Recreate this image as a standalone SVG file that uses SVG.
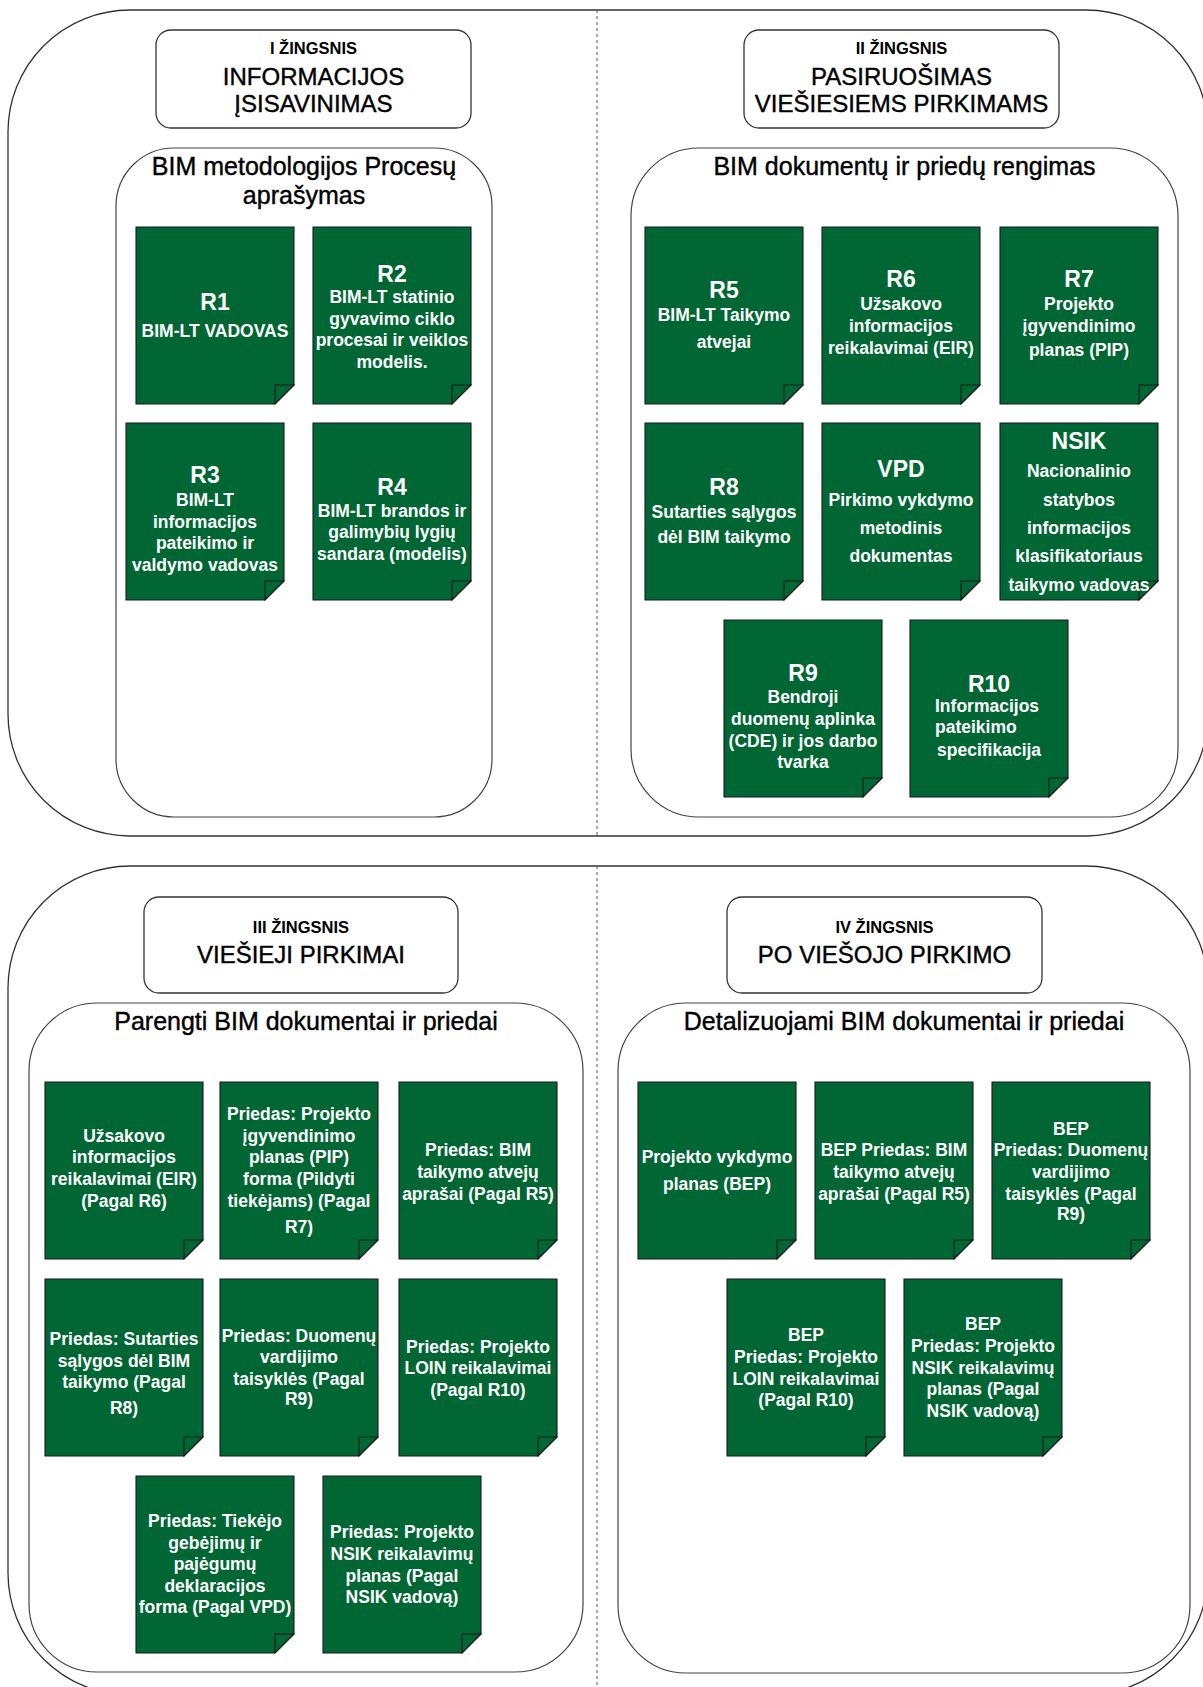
<svg xmlns="http://www.w3.org/2000/svg" xmlns:xlink="http://www.w3.org/1999/xlink" width="1203" height="1687" viewBox="0 0 1203 1687">
<style>
.panel{fill:#fff;stroke:#333;stroke-width:1.3}
.cont{fill:#fff;stroke:#444;stroke-width:1.2}
.hdr{fill:#fff;stroke:#333;stroke-width:1.3}
.div{stroke:#555;stroke-width:1;stroke-dasharray:3 3;fill:none}
.doc{fill:#006633;stroke:#1a1a1a;stroke-width:1.1}
.fold{fill:#006633;stroke:#1a1a1a;stroke-width:1.1}
text{font-family:"Liberation Sans",Arial,sans-serif}
.step{font-size:16.5px;font-weight:bold;fill:#000;text-anchor:middle}
.big{font-size:24px;fill:#000;stroke:#000;stroke-width:0.4;text-anchor:middle}
.ttl{font-size:25px;fill:#000;stroke:#000;stroke-width:0.4;text-anchor:middle}
.h{font-size:23px;font-weight:bold;fill:#fff;text-anchor:middle}
.b{font-size:17.5px;font-weight:bold;fill:#fff;text-anchor:middle}
.bl{font-size:17.5px;font-weight:bold;fill:#fff;text-anchor:start}
</style>
<defs>
<path id="doc" d="M0,0 H158 V158 L139,177 H0 Z"/>
<path id="fold" d="M139,177 V158 H158 Z"/>
</defs>

<g id="panels">
<rect class="panel" x="8" y="10" width="1200" height="826" rx="122" ry="122"/>
<rect class="panel" x="8" y="866" width="1200" height="829" rx="122" ry="122"/>
</g>
<g id="connectors">
<line class="div" x1="597" y1="10" x2="597" y2="836"/>
<line class="div" x1="597" y1="866" x2="597" y2="1687"/>
</g>

<!-- Step I -->
<g id="step1">
<rect class="hdr" x="156" y="30" width="315" height="98" rx="15" ry="15"/>
<text class="step" x="313.5" y="53.5">I ŽINGSNIS</text>
<text class="big" x="313.5" y="85">INFORMACIJOS</text>
<text class="big" x="313.5" y="112">ĮSISAVINIMAS</text>
</g>
<g id="c1">
<rect class="cont" x="116" y="148" width="376" height="669" rx="58" ry="58"/>
<text class="ttl" x="304" y="175">BIM metodologijos Procesų</text>
<text class="ttl" x="304" y="204">aprašymas</text>
</g>
<g id="r1">
<use xlink:href="#doc" class="doc" x="136" y="227"/><use xlink:href="#fold" class="fold" x="136" y="227"/>
<text class="h" x="215" y="310">R1</text>
<text class="b" x="215" y="337">BIM-LT VADOVAS</text>
</g>
<g id="r2">
<use xlink:href="#doc" class="doc" x="313" y="227"/><use xlink:href="#fold" class="fold" x="313" y="227"/>
<text class="h" x="392" y="282">R2</text>
<text class="b" x="392" y="303">BIM-LT statinio</text>
<text class="b" x="392" y="324.5">gyvavimo ciklo</text>
<text class="b" x="392" y="346">procesai ir veiklos</text>
<text class="b" x="392" y="367.5">modelis.</text>
</g>
<g id="r3">
<use xlink:href="#doc" class="doc" x="126" y="423"/><use xlink:href="#fold" class="fold" x="126" y="423"/>
<text class="h" x="205" y="483">R3</text>
<text class="b" x="205" y="506">BIM-LT</text>
<text class="b" x="205" y="528">informacijos</text>
<text class="b" x="205" y="549">pateikimo ir</text>
<text class="b" x="205" y="571">valdymo vadovas</text>
</g>
<g id="r4">
<use xlink:href="#doc" class="doc" x="313" y="423"/><use xlink:href="#fold" class="fold" x="313" y="423"/>
<text class="h" x="392" y="495">R4</text>
<text class="b" x="392" y="517">BIM-LT brandos ir</text>
<text class="b" x="392" y="538">galimybių lygių</text>
<text class="b" x="392" y="560">sandara (modelis)</text>
</g>

<!-- Step II -->
<g id="step2">
<rect class="hdr" x="744" y="30" width="315" height="98" rx="15" ry="15"/>
<text class="step" x="901.5" y="53.5">II ŽINGSNIS</text>
<text class="big" x="901.5" y="85">PASIRUOŠIMAS</text>
<text class="big" x="901.5" y="112">VIEŠIESIEMS PIRKIMAMS</text>
</g>
<g id="c2">
<rect class="cont" x="631" y="148" width="547" height="669" rx="68" ry="68"/>
<text class="ttl" x="904.5" y="175">BIM dokumentų ir priedų rengimas</text>
</g>
<g id="r5">
<use xlink:href="#doc" class="doc" x="645" y="227"/><use xlink:href="#fold" class="fold" x="645" y="227"/>
<text class="h" x="724" y="298">R5</text>
<text class="b" x="724" y="321">BIM-LT Taikymo</text>
<text class="b" x="724" y="348">atvejai</text>
</g>
<g id="r6">
<use xlink:href="#doc" class="doc" x="822" y="227"/><use xlink:href="#fold" class="fold" x="822" y="227"/>
<text class="h" x="901" y="287">R6</text>
<text class="b" x="901" y="310">Užsakovo</text>
<text class="b" x="901" y="332">informacijos</text>
<text class="b" x="901" y="354">reikalavimai (EIR)</text>
</g>
<g id="r7">
<use xlink:href="#doc" class="doc" x="1000" y="227"/><use xlink:href="#fold" class="fold" x="1000" y="227"/>
<text class="h" x="1079" y="287">R7</text>
<text class="b" x="1079" y="310">Projekto</text>
<text class="b" x="1079" y="332">įgyvendinimo</text>
<text class="b" x="1079" y="356">planas (PIP)</text>
</g>
<g id="r8">
<use xlink:href="#doc" class="doc" x="645" y="423"/><use xlink:href="#fold" class="fold" x="645" y="423"/>
<text class="h" x="724" y="495">R8</text>
<text class="b" x="724" y="518">Sutarties sąlygos</text>
<text class="b" x="724" y="543">dėl BIM taikymo</text>
</g>
<g id="vpd">
<use xlink:href="#doc" class="doc" x="822" y="423"/><use xlink:href="#fold" class="fold" x="822" y="423"/>
<text class="h" x="901" y="477">VPD</text>
<text class="b" x="901" y="506">Pirkimo vykdymo</text>
<text class="b" x="901" y="534">metodinis</text>
<text class="b" x="901" y="562">dokumentas</text>
</g>
<g id="nsik">
<use xlink:href="#doc" class="doc" x="1000" y="423"/><use xlink:href="#fold" class="fold" x="1000" y="423"/>
<text class="h" x="1079" y="449">NSIK</text>
<text class="b" x="1079" y="477">Nacionalinio</text>
<text class="b" x="1079" y="506">statybos</text>
<text class="b" x="1079" y="534">informacijos</text>
<text class="b" x="1079" y="562">klasifikatoriaus</text>
<text class="b" x="1079" y="591">taikymo vadovas</text>
</g>
<g id="r9">
<use xlink:href="#doc" class="doc" x="724" y="620"/><use xlink:href="#fold" class="fold" x="724" y="620"/>
<text class="h" x="803" y="681">R9</text>
<text class="b" x="803" y="703">Bendroji</text>
<text class="b" x="803" y="725">duomenų aplinka</text>
<text class="b" x="803" y="747">(CDE) ir jos darbo</text>
<text class="b" x="803" y="768">tvarka</text>
</g>
<g id="r10">
<use xlink:href="#doc" class="doc" x="910" y="620"/><use xlink:href="#fold" class="fold" x="910" y="620"/>
<text class="h" x="989" y="692">R10</text>
<text class="bl" x="935" y="712">Informacijos</text>
<text class="bl" x="935" y="733">pateikimo</text>
<text class="bl" x="937" y="756">specifikacija</text>
</g>

<!-- Step III -->
<g id="step3">
<rect class="hdr" x="144" y="897" width="314" height="96" rx="15" ry="15"/>
<text class="step" x="301" y="933">III ŽINGSNIS</text>
<text class="big" x="301" y="963">VIEŠIEJI PIRKIMAI</text>
</g>
<g id="c3">
<rect class="cont" x="29" y="1003" width="554" height="669" rx="68" ry="68"/>
<text class="ttl" x="306" y="1030">Parengti BIM dokumentai ir priedai</text>
</g>
<g id="p1">
<use xlink:href="#doc" class="doc" x="45" y="1082"/><use xlink:href="#fold" class="fold" x="45" y="1082"/>
<text class="b" x="124" y="1142">Užsakovo</text>
<text class="b" x="124" y="1163">informacijos</text>
<text class="b" x="124" y="1185">reikalavimai (EIR)</text>
<text class="b" x="124" y="1207">(Pagal R6)</text>
</g>
<g id="p2">
<use xlink:href="#doc" class="doc" x="220" y="1082"/><use xlink:href="#fold" class="fold" x="220" y="1082"/>
<text class="b" x="299" y="1120">Priedas: Projekto</text>
<text class="b" x="299" y="1142">įgyvendinimo</text>
<text class="b" x="299" y="1163">planas (PIP)</text>
<text class="b" x="299" y="1185">forma (Pildyti</text>
<text class="b" x="299" y="1207">tiekėjams) (Pagal</text>
<text class="b" x="299" y="1233">R7)</text>
</g>
<g id="p3">
<use xlink:href="#doc" class="doc" x="399" y="1082"/><use xlink:href="#fold" class="fold" x="399" y="1082"/>
<text class="b" x="478" y="1156">Priedas: BIM</text>
<text class="b" x="478" y="1178">taikymo atvejų</text>
<text class="b" x="478" y="1200">aprašai (Pagal R5)</text>
</g>
<g id="p4">
<use xlink:href="#doc" class="doc" x="45" y="1279"/><use xlink:href="#fold" class="fold" x="45" y="1279"/>
<text class="b" x="124" y="1345">Priedas: Sutarties</text>
<text class="b" x="124" y="1367">sąlygos dėl BIM</text>
<text class="b" x="124" y="1388">taikymo (Pagal</text>
<text class="b" x="124" y="1414">R8)</text>
</g>
<g id="p5">
<use xlink:href="#doc" class="doc" x="220" y="1279"/><use xlink:href="#fold" class="fold" x="220" y="1279"/>
<text class="b" x="299" y="1342">Priedas: Duomenų</text>
<text class="b" x="299" y="1363">vardijimo</text>
<text class="b" x="299" y="1385">taisyklės (Pagal</text>
<text class="b" x="299" y="1405">R9)</text>
</g>
<g id="p6">
<use xlink:href="#doc" class="doc" x="399" y="1279"/><use xlink:href="#fold" class="fold" x="399" y="1279"/>
<text class="b" x="478" y="1353">Priedas: Projekto</text>
<text class="b" x="478" y="1374">LOIN reikalavimai</text>
<text class="b" x="478" y="1396">(Pagal R10)</text>
</g>
<g id="p7">
<use xlink:href="#doc" class="doc" x="136" y="1476"/><use xlink:href="#fold" class="fold" x="136" y="1476"/>
<text class="b" x="215" y="1527">Priedas: Tiekėjo</text>
<text class="b" x="215" y="1549">gebėjimų ir</text>
<text class="b" x="215" y="1570">pajėgumų</text>
<text class="b" x="215" y="1592">deklaracijos</text>
<text class="b" x="215" y="1613">forma (Pagal VPD)</text>
</g>
<g id="p8">
<use xlink:href="#doc" class="doc" x="323" y="1476"/><use xlink:href="#fold" class="fold" x="323" y="1476"/>
<text class="b" x="402" y="1538">Priedas: Projekto</text>
<text class="b" x="402" y="1560">NSIK reikalavimų</text>
<text class="b" x="402" y="1582">planas (Pagal</text>
<text class="b" x="402" y="1603">NSIK vadovą)</text>
</g>

<!-- Step IV -->
<g id="step4">
<rect class="hdr" x="727" y="897" width="315" height="96" rx="15" ry="15"/>
<text class="step" x="884.5" y="933">IV ŽINGSNIS</text>
<text class="big" x="884.5" y="963">PO VIEŠOJO PIRKIMO</text>
</g>
<g id="c4">
<rect class="cont" x="618" y="1003" width="572" height="670" rx="68" ry="68"/>
<text class="ttl" x="904" y="1030">Detalizuojami BIM dokumentai ir priedai</text>
</g>
<g id="q1">
<use xlink:href="#doc" class="doc" x="638" y="1082"/><use xlink:href="#fold" class="fold" x="638" y="1082"/>
<text class="b" x="717" y="1163">Projekto vykdymo</text>
<text class="b" x="717" y="1190">planas (BEP)</text>
</g>
<g id="q2">
<use xlink:href="#doc" class="doc" x="815" y="1082"/><use xlink:href="#fold" class="fold" x="815" y="1082"/>
<text class="b" x="894" y="1156">BEP Priedas: BIM</text>
<text class="b" x="894" y="1178">taikymo atvejų</text>
<text class="b" x="894" y="1200">aprašai (Pagal R5)</text>
</g>
<g id="q3">
<use xlink:href="#doc" class="doc" x="992" y="1082"/><use xlink:href="#fold" class="fold" x="992" y="1082"/>
<text class="b" x="1071" y="1135">BEP</text>
<text class="b" x="1071" y="1156">Priedas: Duomenų</text>
<text class="b" x="1071" y="1178">vardijimo</text>
<text class="b" x="1071" y="1200">taisyklės (Pagal</text>
<text class="b" x="1071" y="1220">R9)</text>
</g>
<g id="q4">
<use xlink:href="#doc" class="doc" x="727" y="1279"/><use xlink:href="#fold" class="fold" x="727" y="1279"/>
<text class="b" x="806" y="1341">BEP</text>
<text class="b" x="806" y="1363">Priedas: Projekto</text>
<text class="b" x="806" y="1385">LOIN reikalavimai</text>
<text class="b" x="806" y="1406">(Pagal R10)</text>
</g>
<g id="q5">
<use xlink:href="#doc" class="doc" x="904" y="1279"/><use xlink:href="#fold" class="fold" x="904" y="1279"/>
<text class="b" x="983" y="1330">BEP</text>
<text class="b" x="983" y="1352">Priedas: Projekto</text>
<text class="b" x="983" y="1374">NSIK reikalavimų</text>
<text class="b" x="983" y="1395">planas (Pagal</text>
<text class="b" x="983" y="1417">NSIK vadovą)</text>
</g>
</svg>
